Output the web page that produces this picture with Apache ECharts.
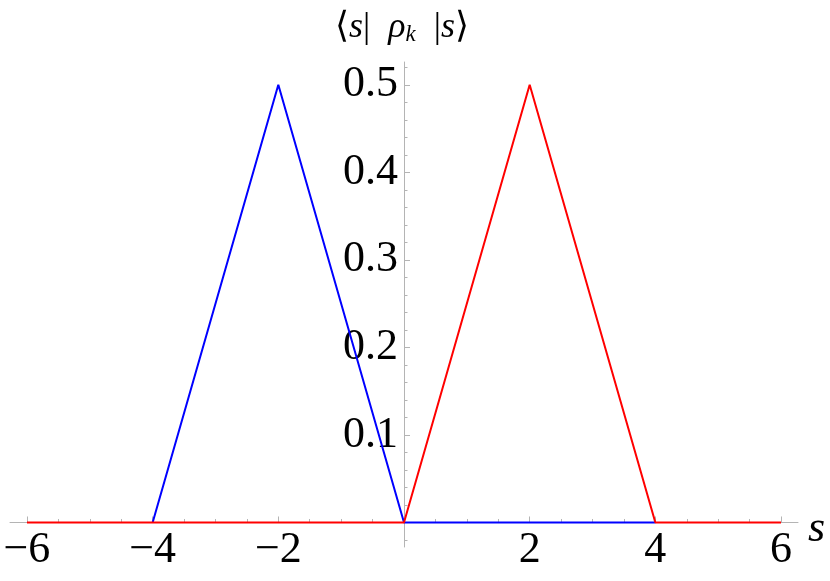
<!DOCTYPE html>
<html>
<head>
<meta charset="utf-8">
<script src="https://cdn.jsdelivr.net/npm/echarts@6/dist/echarts.min.js"></script>
<style>html,body{margin:0;padding:0;background:#fff}#c{width:830px;height:581px}</style>
</head>
<body>
<div id="c"></div>
<script>
// Data
const blueData = [[-4, 0], [-2, 0.5], [0, 0], [4, 0]];
const redData = [[-6, 0], [0, 0], [2, 0.5], [4, 0], [6, 0]];
const xMajorTicks = [-6, -4, -2, 2, 4, 6];
const xMinorTicks = [-6, -5.5, -5, -4.5, -4, -3.5, -3, -2.5, -2, -1.5, -1, -0.5, 0.5, 1, 1.5, 2, 2.5, 3, 3.5, 4, 4.5, 5, 5.5, 6];
const yMajorTicks = [0.1, 0.2, 0.3, 0.4, 0.5];
const yMinorTicks = [-0.02, 0.02, 0.04, 0.06, 0.08, 0.12, 0.14, 0.16, 0.18, 0.22, 0.24, 0.26, 0.28, 0.32, 0.34, 0.36, 0.38, 0.42, 0.44, 0.46, 0.48, 0.52];
const xRange = [-6.27, 6.27];
const yRange = [-0.028, 0.526];
const xName = 's';
const yName = '{b|\u27E8}{i|s}{b||  }{i|\u03C1}{sub|k}{b|  |}{i|s}{b|\u27E9}';

const serif = 'Liberation Serif';
const axisColor = '#b4b4b4';

// grid geometry
const G = {left: 10, top: 62, width: 788, height: 485};
// offsets that move the axes onto the zero of the other axis
const xOff = -G.height * (0 - yRange[0]) / (yRange[1] - yRange[0]);
const yOff = -G.width * (0 - xRange[0]) / (xRange[1] - xRange[0]);

const chart = echarts.init(document.getElementById('c'), null, {renderer: 'canvas'});
chart.setOption({
  animation: false,
  backgroundColor: '#fff',
  textStyle: {fontFamily: serif},
  grid: {left: G.left, top: G.top, width: G.width, height: G.height, outerBoundsMode: 'none', containLabel: false},
  xAxis: [
    {
      type: 'value', min: xRange[0], max: xRange[1], position: 'bottom', offset: xOff,
      axisLine: {show: true, onZero: false, lineStyle: {color: axisColor, width: 1}},
      axisTick: {show: true, inside: true, length: 6, customValues: xMajorTicks, lineStyle: {color: axisColor}},
      axisLabel: {show: true, customValues: xMajorTicks, margin: 6, fontFamily: serif, fontSize: 44, color: '#000',
        formatter: v => (v < 0 ? '\u2212' + Math.abs(v) : String(v))},
      splitLine: {show: false}
    },
    {
      type: 'value', min: xRange[0], max: xRange[1], position: 'bottom', offset: xOff,
      axisLine: {show: true, onZero: false, lineStyle: {color: axisColor, opacity: 0}},
      axisTick: {show: true, inside: true, length: 3.5, customValues: xMinorTicks, lineStyle: {color: axisColor}},
      axisLabel: {show: false},
      splitLine: {show: false}
    }
  ],
  yAxis: [
    {
      type: 'value', min: yRange[0], max: yRange[1], position: 'left', offset: yOff,
      axisLine: {show: true, onZero: false, lineStyle: {color: axisColor, width: 1}},
      axisTick: {show: true, inside: true, length: 6, customValues: yMajorTicks, lineStyle: {color: axisColor}},
      axisLabel: {show: true, customValues: yMajorTicks, margin: 6, fontFamily: serif, fontSize: 44, color: '#000',
        formatter: v => v.toFixed(1)},
      splitLine: {show: false}
    },
    {
      type: 'value', min: yRange[0], max: yRange[1], position: 'left', offset: yOff,
      axisLine: {show: true, onZero: false, lineStyle: {color: axisColor, opacity: 0}},
      axisTick: {show: true, inside: true, length: 3.5, customValues: yMinorTicks, lineStyle: {color: axisColor}},
      axisLabel: {show: false},
      splitLine: {show: false}
    }
  ],
  series: [
    {type: 'line', xAxisIndex: 0, yAxisIndex: 0, data: blueData, showSymbol: false, symbol: 'none',
      lineStyle: {color: '#0000ff', width: 2}, itemStyle: {color: '#0000ff'}},
    {type: 'line', xAxisIndex: 0, yAxisIndex: 0, data: redData, showSymbol: false, symbol: 'none',
      lineStyle: {color: '#ff0000', width: 2}, itemStyle: {color: '#ff0000'}}
  ]
});

// axis names placed relative to the axis ends
const yTop = chart.convertToPixel({xAxisIndex: 0, yAxisIndex: 0}, [0, yRange[1]]);
const xEnd = chart.convertToPixel({xAxisIndex: 0, yAxisIndex: 0}, [xRange[1], 0]);
chart.setOption({
  graphic: [
    {
      type: 'text', x: yTop[0] - 2, y: yTop[1] - 53,
      style: {
        text: yName, align: 'center', verticalAlign: 'top', fill: '#000',
        fontFamily: serif, fontSize: 36,
        rich: {
          b: {fontFamily: serif, fontSize: 36, fill: '#000'},
          i: {fontFamily: serif, fontSize: 36, fontStyle: 'italic', fill: '#000'},
          sub: {fontFamily: serif, fontSize: 23, fontStyle: 'italic', fill: '#000', padding: [14, 0, 0, 0]}
        }
      }
    },
    {
      type: 'text', x: xEnd[0] + 10, y: xEnd[1] - 15,
      style: {text: xName, font: 'italic 44px "Liberation Serif"', fill: '#000', align: 'left', verticalAlign: 'top'}
    }
  ]
});
</script>
</body>
</html>
